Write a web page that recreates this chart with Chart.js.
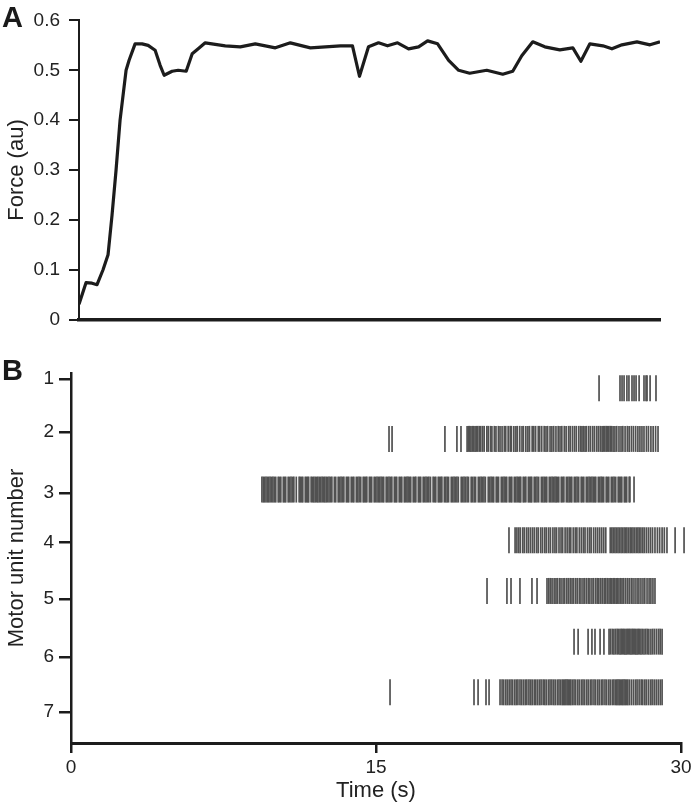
<!DOCTYPE html>
<html>
<head>
<meta charset="utf-8">
<script src="https://cdn.jsdelivr.net/npm/chart.js@4.4.1/dist/chart.umd.min.js"></script>
<style>
  html, body { margin: 0; padding: 0; background: #fff; }
  body { width: 696px; height: 806px; position: relative; overflow: hidden; font-family: 'Liberation Sans', Arial, sans-serif; }
  .panel-letter { position: absolute; left: 2px; font-weight: bold; font-size: 29px; line-height: 29px; color: #1a1a1a; }
  #wrapA { position: absolute; left: 0; top: 0; width: 696px; height: 340px; }
  #wrapB { position: absolute; left: 0; top: 340px; width: 696px; height: 466px; }
</style>
</head>
<body>
<div id="wrapA"><canvas id="forceChart"></canvas></div>
<div id="wrapB"><canvas id="rasterChart"></canvas></div>
<div class="panel-letter" style="top:3px">A</div>
<div class="panel-letter" style="top:356px">B</div>
<script>
// Panel A: force trace
const forceTime = [0, 0.35, 0.65, 0.90, 1.20, 1.45, 1.65, 1.85, 2.05, 2.35, 2.50, 2.80, 3.15, 3.45, 3.80, 4.05, 4.25, 4.65, 4.95, 5.35,
  5.65, 5.95, 6.30, 7.30, 8.05, 8.80, 9.80, 10.55, 11.55, 13.05, 13.65, 14.00, 14.45, 14.95, 15.40, 15.90, 16.45, 16.95, 17.40, 17.90,
  18.45, 18.95, 19.50, 20.35, 21.15, 21.65, 22.10, 22.65, 23.25, 24.00, 24.65, 25.05, 25.50, 26.15, 26.60, 27.10, 27.85, 28.50, 29.00];
const forceValue = [0.031, 0.074, 0.073, 0.070, 0.100, 0.130, 0.210, 0.300, 0.400, 0.500, 0.520, 0.553, 0.553, 0.550, 0.540, 0.510, 0.490, 0.498, 0.500, 0.498,
  0.533, 0.543, 0.555, 0.549, 0.547, 0.553, 0.545, 0.555, 0.545, 0.549, 0.549, 0.488, 0.547, 0.555, 0.549, 0.555, 0.543, 0.547, 0.559, 0.553,
  0.520, 0.500, 0.494, 0.500, 0.492, 0.498, 0.529, 0.557, 0.547, 0.541, 0.545, 0.518, 0.553, 0.549, 0.543, 0.551, 0.557, 0.551, 0.557];

// Panel B: spike times (s) per motor unit
const unit1Spikes = [25.97, 27.00, 27.10, 27.20, 27.34, 27.44, 27.59, 27.69, 27.79, 27.94, 28.18, 28.28, 28.33, 28.48, 28.77];
const unit2Spikes = [15.64, 15.79, 18.39, 18.98, 19.18,
  19.48, 19.55, 19.61, 19.67, 19.74, 19.80, 19.87, 19.93, 20.00, 20.08, 20.15, 20.24, 20.32, 20.45, 20.52, 20.63, 20.70, 20.82, 20.90,
  21.02, 21.10, 21.20, 21.31, 21.38, 21.50, 21.60, 21.66, 21.78, 21.88, 21.95, 22.07, 22.18, 22.25, 22.37, 22.47, 22.55, 22.68, 22.76,
  22.85, 22.98, 23.05, 23.15, 23.27, 23.36, 23.44, 23.56, 23.65, 23.74, 23.85, 23.96, 24.05, 24.14, 24.26, 24.35, 24.47, 24.55, 24.66,
  24.76, 24.85, 24.97, 25.06, 25.13, 25.20, 25.28, 25.35, 25.46, 25.55, 25.66, 25.75, 25.86, 25.95, 26.04, 26.12, 26.18, 26.25, 26.32,
  26.38, 26.45, 26.52, 26.58, 26.66, 26.75, 26.84, 26.95, 27.05, 27.14, 27.25, 27.36, 27.45, 27.56, 27.66, 27.77, 27.88, 27.98, 28.08,
  28.18, 28.30, 28.40, 28.52, 28.63, 28.75, 28.87];
const unit3Spikes = [9.39, 9.46, 9.52, 9.59, 9.66, 9.72, 9.79, 9.86, 9.93, 10.00, 10.07, 10.19, 10.25, 10.32, 10.44, 10.50, 10.56,
  10.68, 10.75, 10.82, 10.89, 10.96, 11.08, 11.22, 11.28, 11.34, 11.40, 11.52, 11.58, 11.64, 11.69, 11.81, 11.88, 11.94, 12.01, 12.08,
  12.14, 12.21, 12.28, 12.35, 12.42, 12.48, 12.55, 12.62, 12.69, 12.76, 12.83, 12.95, 13.02, 13.14, 13.21, 13.28, 13.35, 13.42, 13.54,
  13.60, 13.66, 13.78, 13.85, 13.91, 14.03, 14.10, 14.17, 14.25, 14.37, 14.43, 14.49, 14.55, 14.67, 14.73, 14.79, 14.91, 14.98, 15.05,
  15.12, 15.18, 15.25, 15.32, 15.38, 15.50, 15.57, 15.64, 15.71, 15.78, 15.90, 15.96, 16.02, 16.14, 16.21, 16.27, 16.39, 16.45, 16.52,
  16.58, 16.65, 16.71, 16.83, 16.90, 16.96, 17.08, 17.14, 17.20, 17.32, 17.39, 17.46, 17.53, 17.60, 17.68, 17.81, 17.88, 17.94, 18.06,
  18.12, 18.18, 18.24, 18.36, 18.43, 18.50, 18.57, 18.70, 18.77, 18.84, 18.91, 18.98, 19.05, 19.19, 19.26, 19.33, 19.40, 19.48, 19.55,
  19.68, 19.75, 19.83, 19.90, 20.03, 20.10, 20.17, 20.24, 20.31, 20.38, 20.52, 20.59, 20.66, 20.73, 20.79, 20.91, 20.97, 21.03, 21.16,
  21.23, 21.30, 21.37, 21.43, 21.55, 21.62, 21.68, 21.80, 21.87, 21.94, 22.01, 22.07, 22.12, 22.24, 22.30, 22.37, 22.49, 22.55, 22.61,
  22.66, 22.78, 22.85, 22.92, 23.00, 23.13, 23.20, 23.27, 23.34, 23.40, 23.52, 23.59, 23.66, 23.73, 23.80, 23.86, 23.92, 23.99, 24.11,
  24.17, 24.24, 24.36, 24.43, 24.50, 24.57, 24.63, 24.75, 24.82, 24.89, 24.97, 25.09, 25.15, 25.22, 25.34, 25.41, 25.48, 25.55, 25.62,
  25.69, 25.75, 25.81, 25.93, 26.00, 26.07, 26.13, 26.20, 26.32, 26.38, 26.45, 26.57, 26.64, 26.71, 26.79, 26.91, 26.97, 27.03, 27.09,
  27.21, 27.27, 27.33, 27.45, 27.49, 27.69];
const unit4Spikes = [21.54, 21.84, 21.93, 22.02, 22.10, 22.22, 22.30, 22.41, 22.50, 22.60, 22.70, 22.79, 22.90, 22.98, 23.10, 23.19,
  23.30, 23.38, 23.49, 23.58, 23.70, 23.80, 23.88, 24.00, 24.10, 24.18, 24.30, 24.40, 24.50, 24.58, 24.70, 24.80, 24.88, 25.00, 25.10,
  25.20, 25.28, 25.40, 25.50, 25.58, 25.70, 25.80, 25.90, 26.00, 26.10, 26.20, 26.30, 26.52, 26.60, 26.67, 26.75, 26.82, 26.90, 26.97,
  27.05, 27.12, 27.20, 27.27, 27.34, 27.42, 27.50, 27.57, 27.64, 27.72, 27.80, 27.88, 27.95, 28.03, 28.12, 28.20, 28.30, 28.40, 28.50,
  28.60, 28.72, 28.84, 28.95, 29.07, 29.18, 29.31, 29.71, 30.15];
const unit5Spikes = [20.46, 21.44, 21.64, 22.08, 22.67, 22.92,
  23.41, 23.50, 23.58, 23.66, 23.76, 23.85, 23.92, 24.02, 24.10, 24.20, 24.28, 24.38, 24.46, 24.55, 24.64, 24.72, 24.82, 24.90, 25.00,
  25.08, 25.18, 25.26, 25.35, 25.44, 25.52, 25.62, 25.70, 25.80, 25.88, 25.96, 26.05, 26.13, 26.22, 26.30, 26.38, 26.46, 26.53, 26.60,
  26.67, 26.74, 26.81, 26.88, 26.95, 27.03, 27.10, 27.18, 27.27, 27.36, 27.45, 27.55, 27.64, 27.74, 27.84, 27.93, 28.03, 28.13, 28.22,
  28.33, 28.43, 28.52, 28.62, 28.72];
const unit6Spikes = [24.74, 24.94, 25.43, 25.62, 25.77, 26.02, 26.21,
  26.46, 26.53, 26.62, 26.70, 26.78, 26.86, 26.93, 27.00, 27.06, 27.12, 27.18, 27.24, 27.30, 27.36, 27.42, 27.48, 27.54, 27.60, 27.66,
  27.72, 27.78, 27.84, 27.90, 27.96, 28.03, 28.10, 28.18, 28.26, 28.34, 28.42, 28.52, 28.61, 28.70, 28.80, 28.90, 28.98, 29.07];
const unit7Spikes = [15.69, 19.82, 20.02, 20.41, 20.56,
  21.10, 21.20, 21.28, 21.38, 21.46, 21.55, 21.64, 21.72, 21.82, 21.90, 21.98, 22.08, 22.16, 22.25, 22.34, 22.42, 22.52, 22.60, 22.68,
  22.78, 22.86, 22.95, 23.04, 23.12, 23.22, 23.30, 23.38, 23.48, 23.56, 23.65, 23.74, 23.82, 23.92, 24.00, 24.08, 24.16, 24.22, 24.28,
  24.34, 24.40, 24.46, 24.52, 24.58, 24.66, 24.74, 24.82, 24.92, 25.00, 25.10, 25.18, 25.26, 25.36, 25.44, 25.54, 25.62, 25.72, 25.80,
  25.90, 25.98, 26.08, 26.16, 26.26, 26.34, 26.44, 26.52, 26.62, 26.70, 26.78, 26.84, 26.90, 26.96, 27.02, 27.08, 27.14, 27.20, 27.26,
  27.32, 27.38, 27.46, 27.56, 27.66, 27.76, 27.84, 27.94, 28.04, 28.12, 28.22, 28.30, 28.40, 28.50, 28.58, 28.68, 28.78, 28.88, 28.98, 29.07];

// axis ticks
const forceTicks = [0, 0.1, 0.2, 0.3, 0.4, 0.5, 0.6];
const timeTicks = [0, 15, 30];
const unitLabels = ['1', '2', '3', '4', '5', '6', '7'];
const unitTickPos = [0.82, 1.86, 3.07, 4.04, 5.16, 6.30, 7.39]; // where the labels sit on the axis

const FONT = "'Liberation Sans', Arial, sans-serif";
const INK = '#1c1c1c';
const TEXT = '#222';

new Chart(document.getElementById('forceChart'), {
    type: 'line',
    data: {
        datasets: [{
            data: forceTime.map((t, i) => ({ x: t, y: forceValue[i] })),
            borderColor: INK,
            borderWidth: 3.2,
            borderJoinStyle: 'round',
            pointRadius: 0,
            tension: 0,
            fill: false
        }]
    },
    options: {
        responsive: true,
        maintainAspectRatio: false,
        animation: false,
        events: [],
        layout: { padding: { top: 16, right: 36, bottom: 0, left: 0 } },
        plugins: { legend: { display: false }, tooltip: { enabled: false } },
        scales: {
            x: {
                type: 'linear', min: 0, max: 29,
                ticks: { display: false },
                grid: { display: false },
                border: { display: true, color: INK, width: 3.5 },
                afterFit(s) { s.height = 17; }
            },
            y: {
                type: 'linear', min: 0, max: 0.6,
                afterBuildTicks(s) { s.ticks = forceTicks.map(v => ({ value: v })); },
                ticks: { color: TEXT, font: { family: FONT, size: 19 }, padding: 9 },
                grid: { display: true, drawOnChartArea: false, drawTicks: true, tickLength: 10, color: INK, lineWidth: 2 },
                border: { display: true, color: INK, width: 2 },
                title: { display: true, text: 'Force (au)', color: TEXT, font: { family: FONT, size: 22 }, padding: { top: 4, bottom: 0 } },
                afterFit(s) { s.width = 79; }
            }
        }
    }
});

const unitRows = [unit1Spikes, unit2Spikes, unit3Spikes, unit4Spikes, unit5Spikes, unit6Spikes, unit7Spikes];

new Chart(document.getElementById('rasterChart'), {
    type: 'scatter',
    data: {
        datasets: unitRows.map((spikes, i) => ({
            label: 'Unit ' + (i + 1),
            data: spikes.map(t => ({ x: t, y: i + 1 })),
            showLine: false,
            pointStyle: 'line',
            pointRotation: 90,
            pointRadius: 13,
            pointBorderWidth: 1.7,
            pointBorderColor: '#515151',
            pointBackgroundColor: '#515151',
            clip: false
        }))
    },
    options: {
        responsive: true,
        maintainAspectRatio: false,
        animation: false,
        events: [],
        layout: { padding: { top: 33, right: 15, bottom: 0, left: 0 } },
        plugins: { legend: { display: false }, tooltip: { enabled: false } },
        scales: {
            x: {
                type: 'linear', min: 0, max: 30,
                afterBuildTicks(s) { s.ticks = timeTicks.map(v => ({ value: v })); },
                ticks: { color: TEXT, font: { family: FONT, size: 19 }, padding: 3, maxRotation: 0 },
                grid: { display: true, drawOnChartArea: false, drawTicks: true, tickLength: 10, color: INK, lineWidth: 2.5 },
                border: { display: true, color: INK, width: 3 },
                title: { display: true, text: 'Time (s)', color: TEXT, font: { family: FONT, size: 22 }, padding: { top: 0, bottom: 2 } },
                afterFit(s) { s.height = 63; }
            },
            y: {
                type: 'linear', reverse: true, min: 0.7, max: 8.0,
                afterBuildTicks(s) { s.ticks = unitTickPos.map(v => ({ value: v })); },
                ticks: { color: TEXT, font: { family: FONT, size: 19 }, padding: 5, callback: (v, i) => unitLabels[i] },
                grid: { display: true, drawOnChartArea: false, drawTicks: true, tickLength: 12, color: INK, lineWidth: 2.5 },
                border: { display: true, color: INK, width: 2.5 },
                title: { display: true, text: 'Motor unit number', color: TEXT, font: { family: FONT, size: 22 }, padding: { top: 4, bottom: 0 } },
                afterFit(s) { s.width = 71; }
            }
        }
    }
});
</script>
</body>
</html>
